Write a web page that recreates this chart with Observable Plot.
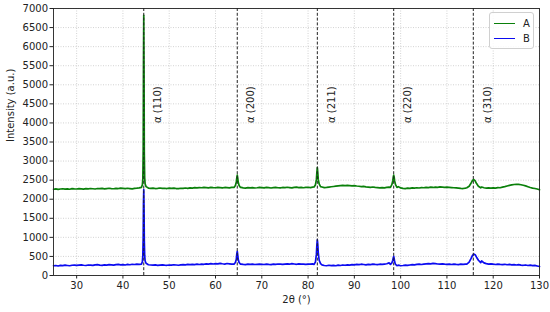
<!DOCTYPE html>
<html>
<head>
<meta charset="utf-8">
<script src="https://cdn.jsdelivr.net/npm/d3@7"></script>
<script src="https://cdn.jsdelivr.net/npm/@observablehq/plot@0.6"></script>
<style>
  html, body { margin: 0; padding: 0; background: #fff; }
  #wrap { position: relative; width: 550px; height: 312px; font-family: "DejaVu Sans", sans-serif; }
  #legend { position: absolute; left: 489px; top: 12px; width: 43px; height: 35px; border: 1px solid #d0d0d0; border-radius: 3px; background: rgba(255,255,255,0.85); font-size: 10px; color: #222; }
  .item { position: absolute; left: 4px; height: 12px; display: flex; align-items: center; }
  .item .sw { width: 21px; height: 0; border-top: 1.6px solid; margin-right: 8px; }
</style>
</head>
<body>
<div id="wrap"><div id="chart"></div><div id="legend"></div></div>
<script>
// sampling of the measured scan (baseline grid)
const gridStart = 25;
const gridStep = 0.5;

// series A baseline, 25.0 .. 130.0 every 0.5°
const baseA = [
  2262,2270,2258,2268,2274,2265,2271,2262,2276,2270,
  2268,2277,2270,2264,2279,2272,2281,2274,2268,2280,
  2276,2284,2272,2280,2287,2278,2274,2285,2280,2290,
  2283,2276,2288,2280,2272,2285,2290,2298,2320,2330,
  2310,2292,2284,2290,2280,2286,2294,2282,2288,2280,
  2290,2284,2292,2280,2276,2288,2282,2294,2286,2298,
  2290,2302,2296,2306,2300,2310,2304,2298,2312,2305,
  2300,2312,2306,2298,2308,2302,2296,2310,2320,2360,
  2380,2310,2298,2290,2302,2296,2306,2294,2300,2310,
  2304,2296,2310,2302,2294,2306,2312,2300,2296,2308,
  2302,2314,2306,2298,2310,2316,2304,2312,2300,2308,
  2314,2306,2318,2330,2400,2360,2320,2304,2310,2318,
  2326,2334,2342,2350,2356,2362,2355,2364,2358,2350,
  2356,2346,2340,2332,2336,2324,2318,2312,2320,2310,
  2306,2298,2304,2296,2310,2318,2330,2360,2420,2330,
  2296,2284,2278,2290,2284,2296,2290,2300,2294,2306,
  2300,2310,2304,2316,2308,2318,2312,2322,2316,2310,
  2318,2312,2306,2300,2296,2290,2284,2280,2290,2300,
  2330,2380,2480,2440,2370,2320,2300,2292,2296,2290,
  2298,2292,2304,2300,2316,2330,2346,2362,2374,2386,
  2392,2388,2380,2366,2350,2328,2306,2290,2280,2268,
  2248
];

// series B baseline, 25.0 .. 130.0 every 0.5°
const baseB = [
  255,262,250,266,258,270,262,255,268,274,
  265,272,280,268,262,276,270,264,278,284,
  272,266,280,274,286,278,270,284,290,280,
  286,276,290,282,294,288,296,292,300,310,
  300,282,276,270,278,266,274,280,272,268,
  276,270,282,276,268,280,286,278,290,284,
  292,286,296,288,300,294,306,298,310,302,
  312,304,318,308,300,314,306,296,310,330,
  340,300,292,286,296,290,298,288,294,300,
  294,288,300,292,286,298,292,302,296,290,
  300,306,296,310,302,294,306,300,296,292,
  300,296,304,320,360,320,280,262,255,268,
  258,264,256,270,262,276,268,280,274,284,
  278,290,284,296,288,280,292,286,298,290,
  284,296,290,300,308,330,380,460,320,270,
  256,262,270,264,276,284,278,290,296,288,
  300,306,312,304,316,310,302,296,306,298,
  292,300,288,296,290,286,296,292,300,310,
  380,460,540,520,440,380,330,310,300,306,
  296,288,300,292,286,294,282,290,280,286,
  276,284,272,268,276,262,270,258,264,250,
  236
];

// finely sampled peak profiles
const peakRegionTheta = [
  [44.0, 44.2, 44.3, 44.38, 44.44, 44.5, 44.56, 44.62, 44.7, 44.8, 45.0],
  [64.0, 64.3, 64.5, 64.6, 64.7, 64.8, 64.9, 65.1, 65.4],
  [81.3, 81.6, 81.8, 81.9, 82.0, 82.1, 82.2, 82.4, 82.7],
  [97.8, 98.1, 98.3, 98.4, 98.5, 98.6, 98.7, 98.9, 99.2],
  [114.3, 114.8, 115.2, 115.5, 115.8, 116.1, 116.4, 116.8, 117.3]
];
const peakRegionA = [
  [2310, 2380, 2520, 3300, 5600, 6820, 5400, 3200, 2560, 2400, 2330],
  [2310, 2360, 2450, 2560, 2630, 2560, 2450, 2360, 2310],
  [2320, 2380, 2520, 2700, 2830, 2700, 2520, 2400, 2330],
  [2310, 2380, 2480, 2580, 2630, 2580, 2480, 2380, 2310],
  [2300, 2340, 2420, 2490, 2517, 2480, 2410, 2340, 2300]
];
const peakRegionB = [
  [300, 360, 520, 1000, 1900, 2250, 1750, 900, 520, 380, 320],
  [300, 340, 430, 560, 630, 550, 430, 340, 300],
  [290, 360, 560, 800, 935, 820, 600, 400, 310],
  [290, 330, 400, 460, 500, 440, 360, 290, 260],
  [300, 350, 440, 520, 560, 545, 480, 400, 340]
];

// reflections
const reflectionTheta = [44.5, 64.7, 82.0, 98.5, 115.7];
const reflectionLabels = ["α (110)", "α (200)", "α (211)", "α (220)", "α (310)"];
const labelY = 4000;

const seriesNames = ["A", "B"];
const seriesColors = ["#0a800a", "#0b0bf0"];
const xTicks = [30, 40, 50, 60, 70, 80, 90, 100, 110, 120, 130];
const yTicks = [0, 500, 1000, 1500, 2000, 2500, 3000, 3500, 4000, 4500, 5000, 5500, 6000, 6500, 7000];

// build table
const ranges = peakRegionTheta.map(t => [t[0], t[t.length - 1]]);
const rows = [];
baseA.forEach((a, i) => {
  const t = gridStart + i * gridStep;
  if (!ranges.some(([lo, hi]) => t >= lo && t <= hi)) rows.push({t, A: a, B: baseB[i]});
});
peakRegionTheta.forEach((ts, k) => ts.forEach((t, j) => rows.push({t, A: peakRegionA[k][j], B: peakRegionB[k][j]})));
rows.sort((p, q) => p.t - q.t);
const long = [];
for (const s of seriesNames) for (const r of rows) long.push({theta: r.t, intensity: r[s], series: s});

const font = "DejaVu Sans, sans-serif";
const fs = 10;
const chart = Plot.plot({
  width: 550,
  height: 312,
  marginLeft: 53,
  marginRight: 11,
  marginTop: 8,
  marginBottom: 37,
  style: {fontFamily: font, fontSize: fs + "px", color: "#222", background: "#fff"},
  x: {domain: [25, 130]},
  y: {domain: [0, 7000]},
  color: {domain: seriesNames, range: seriesColors},
  marks: [
    Plot.gridX(xTicks, {stroke: "#b0b0b0", strokeOpacity: 0.8, strokeWidth: 0.7, strokeDasharray: "1,1.5"}),
    Plot.gridY(yTicks, {stroke: "#b0b0b0", strokeOpacity: 0.8, strokeWidth: 0.7, strokeDasharray: "1,1.5"}),
    Plot.line(long, {x: "theta", y: "intensity", z: "series", stroke: "series", strokeWidth: 1.7}),
    Plot.ruleX(reflectionTheta, {stroke: "#222", strokeWidth: 1, strokeDasharray: "3,1.8"}),
    Plot.text(reflectionTheta, {x: d => d, y: labelY, text: (d, i) => reflectionLabels[i], rotate: -90, textAnchor: "start", dx: 14, fill: "#222", fontSize: fs}),
    Plot.axisX(xTicks, {tickSize: 3.5, tickPadding: 2.5, label: null, stroke: "#222", fill: "#222", fontSize: fs, tickFormat: d3.format("d")}),
    Plot.axisY(yTicks, {tickSize: 3.5, tickPadding: 2, label: null, stroke: "#222", fill: "#222", fontSize: fs, tickFormat: d3.format("d")}),
    Plot.text(["2θ (°)"], {frameAnchor: "bottom", dy: 27, fill: "#222", fontSize: fs}),
    Plot.text(["Intensity (a.u.)"], {frameAnchor: "left", dx: -43, rotate: -90, fill: "#222", fontSize: fs}),
    Plot.frame({stroke: "#222", strokeWidth: 0.9})
  ]
});
document.getElementById("chart").appendChild(chart);

const legend = document.getElementById("legend");
seriesNames.forEach((s, i) => {
  const item = document.createElement("div");
  item.className = "item";
  item.style.top = (4 + i * 15) + "px";
  const sw = document.createElement("span");
  sw.className = "sw";
  sw.style.borderTopColor = seriesColors[i];
  const lab = document.createElement("span");
  lab.textContent = s;
  item.appendChild(sw);
  item.appendChild(lab);
  legend.appendChild(item);
});
</script>
</body>
</html>
